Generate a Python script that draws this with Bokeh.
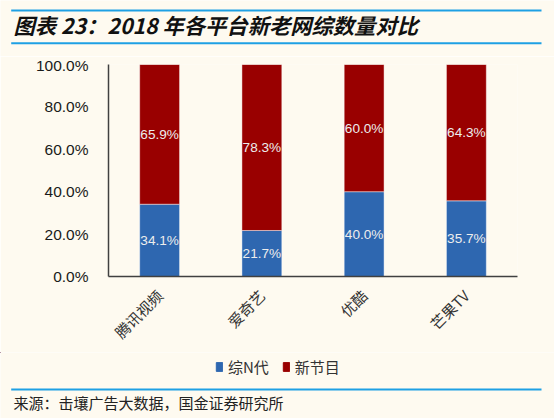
from bokeh.plotting import figure
from bokeh.models import (ColumnDataSource, FactorRange, Range1d, LabelSet,
                          Legend, LegendItem, NumeralTickFormatter, FixedTicker)
from bokeh.core.properties import value
from bokeh.embed import file_html
from bokeh.resources import INLINE
import math

# ---- data ----
categories = ["腾讯视频", "爱奇艺", "优酷", "芒果TV"]
series_names = ["综N代", "新节目"]
zong_n = [0.341, 0.217, 0.400, 0.357]
new_shows = [0.659, 0.783, 0.600, 0.643]
y_ticks = [0.0, 0.2, 0.4, 0.6, 0.8, 1.0]
title_text = "图表 23：2018 年各平台新老网综数量对比"
source_text = "来源：击壤广告大数据，国金证券研究所"

BG = "#FEFAF0"
BLUE = "#2E67B0"
RED = "#990000"
LINE_BLUE = "#1EA0E4"
W = 554
H_HEAD, H_MAIN, H_FOOT = 56, 296, 66


def blank(h):
    f = figure(width=W, height=h, x_range=Range1d(0, W), y_range=Range1d(h, 0),
               output_backend="svg", toolbar_location=None, title=None,
               x_axis_location=None, y_axis_location=None,
               min_border_left=0, min_border_right=0, min_border_top=0, min_border_bottom=0)
    f.background_fill_color = BG
    f.border_fill_color = BG
    f.outline_line_color = None
    f.xgrid.grid_line_color = None
    f.ygrid.grid_line_color = None
    return f


# ---- header ----
head = blank(H_HEAD)
head.segment(x0=[10.7, 10.7], y0=[10, 42.7], x1=[541, 541], y1=[10, 42.7],
             line_color=LINE_BLUE, line_width=2)
head.text(x=[13], y=[23.5], text=[title_text], text_font=value("Noto Sans CJK SC"),
          text_font_style="bold italic", text_font_size="21.3px", text_color="#111111",
          text_baseline="middle", text_align="left")

# ---- main chart ----
src = ColumnDataSource(dict(cat=categories, zong=zong_n, new=new_shows))
p = figure(x_range=FactorRange(*categories), y_range=Range1d(0, 1),
           width=W, height=H_MAIN, output_backend="svg", toolbar_location=None,
           min_border_left=108, min_border_right=37, min_border_top=8,
           min_border_bottom=74, title=None)
p.background_fill_color = BG
p.border_fill_color = BG
p.outline_line_color = None
p.xgrid.grid_line_color = None
p.ygrid.grid_line_color = None

rs = p.vbar_stack(["zong", "new"], x="cat", width=0.39, source=src,
                  color=[BLUE, RED], line_color="white", line_alpha=0.45, line_width=1)

lab_x, lab_y, lab_t = [], [], []
for c, a, b in zip(categories, zong_n, new_shows):
    lab_x += [c, c]
    lab_y += [a / 2, a + b / 2]
    lab_t += ["%.1f%%" % (a * 100), "%.1f%%" % (b * 100)]
lsrc = ColumnDataSource(dict(x=lab_x, y=lab_y, t=lab_t))
p.add_layout(LabelSet(x="x", y="y", text="t", source=lsrc, text_align="center",
                      text_baseline="middle", text_color="#EDEDED",
                      text_font_size="13.6px", text_font=value("Liberation Sans")))

ya = p.yaxis[0]
ya.ticker = FixedTicker(ticks=y_ticks)
ya.formatter = NumeralTickFormatter(format="0.0%")
ya.major_tick_line_color = None
ya.minor_tick_line_color = None
ya.axis_line_color = "#404040"
ya.axis_line_width = 1.5
ya.major_label_text_font = "Liberation Sans"
ya.major_label_text_font_size = "15.5px"
ya.major_label_text_color = "#1A1A1A"
ya.major_label_standoff = 14

xa = p.xaxis[0]
xa.major_tick_line_color = None
xa.minor_tick_line_color = None
xa.axis_line_color = "#404040"
xa.axis_line_width = 1.5
xa.major_label_orientation = math.pi / 4
xa.major_label_text_font = "Noto Sans CJK SC"
xa.major_label_text_font_size = "15px"
xa.major_label_text_color = "#333333"
xa.major_label_standoff = 10

# ---- footer (legend + source) ----
foot = blank(H_FOOT)
d0 = foot.vbar(x=[-1000], top=[-1000], bottom=[-1001], width=1, color=BLUE)
d1 = foot.vbar(x=[-1000], top=[-1000], bottom=[-1001], width=1, color=RED)
legend = Legend(items=[LegendItem(label=series_names[0], renderers=[d0]),
                       LegendItem(label=series_names[1], renderers=[d1])],
                location=(215, 41), orientation="horizontal",
                glyph_width=8, glyph_height=11, label_standoff=5, spacing=13,
                padding=0, margin=0, border_line_color=None,
                background_fill_alpha=0,
                label_text_font="Noto Sans CJK SC", label_text_font_size="15px",
                label_text_color="#333333")
foot.add_layout(legend)
foot.segment(x0=[10.7], y0=[37], x1=[541], y1=[37], line_color=LINE_BLUE, line_width=2)
foot.text(x=[13], y=[49.5], text=[source_text], text_font=value("Noto Sans CJK SC"),
          text_font_size="15px", text_color="#222222", text_baseline="middle",
          text_align="left")

html = file_html([head, p, foot], INLINE)
html = html.replace("<body>", '<body style="background-color:%s;">' % BG, 1)
open("out.html", "w").write(html)
